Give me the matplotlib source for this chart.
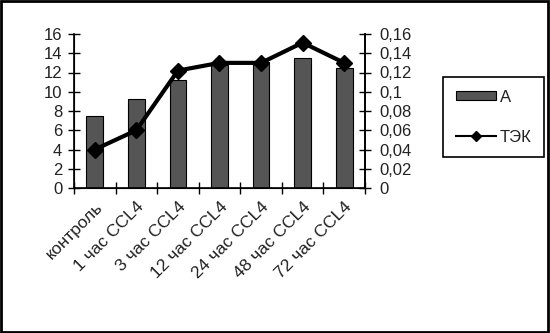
import matplotlib
matplotlib.use('Agg')
import matplotlib.pyplot as plt
from matplotlib.patches import Rectangle, Patch
from matplotlib.lines import Line2D
import numpy as np

plt.rcParams['font.family'] = ['Liberation Sans', 'DejaVu Sans']

categories = ['контроль', '1 час CCL4', '3 час CCL4', '12 час CCL4',
              '24 час CCL4', '48 час CCL4', '72 час CCL4']
a_values = [7.5, 9.2, 11.2, 12.8, 13.1, 13.5, 12.5]
tek_values = [0.04, 0.06, 0.122, 0.13, 0.13, 0.151, 0.13]
left_ticks = [0, 2, 4, 6, 8, 10, 12, 14, 16]
right_ticks = [0, 0.02, 0.04, 0.06, 0.08, 0.1, 0.12, 0.14, 0.16]
right_labels = ['0', '0,02', '0,04', '0,06', '0,08', '0,1', '0,12', '0,14', '0,16']

txt = '#222222'
fig = plt.figure(figsize=(5.5, 3.33), dpi=100)
ax = fig.add_axes([74/550, 1 - 188/333, 291/550, 154/333])
x = np.arange(len(categories))

bars = ax.bar(x, a_values, width=0.4, color='#555555', edgecolor='black',
              linewidth=0.8, label='A', zorder=2)
ax.set_xlim(-0.5, len(categories) - 0.5)
ax.set_ylim(0, 16)
ax.set_yticks(left_ticks)
ax.set_yticklabels([str(t) for t in left_ticks], fontsize=12, color=txt)
ax.set_xticks(np.append(x - 0.5, len(categories) - 0.5))
ax.set_xticklabels([''] * (len(categories) + 1))
ax.set_xticks(x, minor=True)
ax.set_xticklabels(categories, minor=True, rotation=45, ha='right',
                   rotation_mode='anchor', fontsize=12.5, color=txt)
ax.tick_params(axis='x', which='minor', length=0, pad=8)
ax.tick_params(axis='x', which='major', direction='inout', length=9, width=1)
ax.tick_params(axis='y', direction='inout', length=9, width=1, pad=4)
ax.spines['top'].set_visible(False)
for s in ['left', 'bottom', 'right']:
    ax.spines[s].set_linewidth(1.2)

ax2 = ax.twinx()
line, = ax2.plot(x, tek_values, color='black', linewidth=3, marker='D',
                 markersize=8, label='ТЭК', zorder=3)
ax2.set_ylim(0, 0.16)
ax2.set_yticks(right_ticks)
ax2.set_yticklabels(right_labels, fontsize=12, color=txt)
ax2.tick_params(axis='y', direction='inout', length=9, width=1, pad=6)
ax2.spines['top'].set_visible(False)
ax2.spines['right'].set_linewidth(1.2)

h_bar = Patch(facecolor='#555555', edgecolor='black', linewidth=0.8)
h_line = Line2D([], [], color='black', linewidth=1.5, marker='D', markersize=5)
leg = fig.legend([h_bar, h_line], ['A', 'ТЭК'], loc='upper left',
                 bbox_to_anchor=(443/550, 1 - 77/333), fontsize=12,
                 fancybox=False, edgecolor='black', framealpha=1,
                 handlelength=2.4, handleheight=0.5, labelspacing=1.5,
                 borderpad=0.75, handletextpad=0.25, borderaxespad=0)
leg.get_frame().set_linewidth(1.2)
for t in leg.get_texts():
    t.set_color(txt)

fig.patches.append(Rectangle((0.002, 0.003), 0.994, 0.994, transform=fig.transFigure,
                             fill=False, edgecolor='black', linewidth=2))

fig.savefig('out.png', dpi=100)
